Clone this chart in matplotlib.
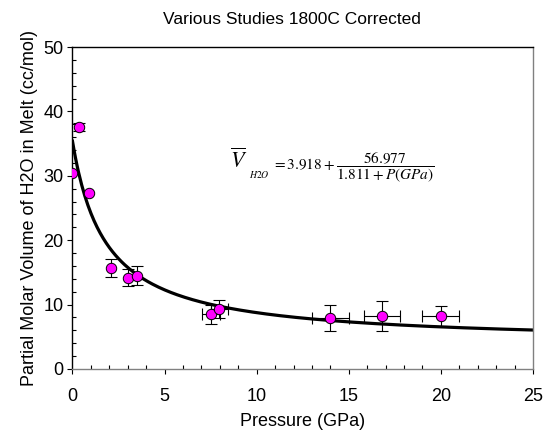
import numpy as np
import matplotlib
matplotlib.use('Agg')
import matplotlib.pyplot as plt
from matplotlib.ticker import MultipleLocator

plt.rcParams['font.family'] = 'Liberation Sans'
plt.rcParams['mathtext.fontset'] = 'stix'

# data
pressure = [0.0, 0.36, 0.89, 2.1, 3.0, 3.5, 7.53, 7.98, 14.0, 16.8, 20.0]
volume = [30.5, 37.6, 27.4, 15.7, 14.2, 14.5, 8.5, 9.3, 7.9, 8.2, 8.2]
p_err = [0, 0, 0, 0, 0, 0, 0.5, 0.45, 1.0, 1.0, 1.0]
v_err = [0, 0.6, 0, 1.45, 1.3, 1.5, 1.5, 1.4, 2.0, 2.35, 1.5]

# fit parameters
A = 3.918
B = 56.977
C = 1.811

p_fit = np.linspace(0, 25, 300)
v_fit = A + B / (C + p_fit)

W, H = 543, 432
fig = plt.figure(figsize=(5.43, 4.32), dpi=100)
ax = fig.add_axes([0.1335, 0.146, 0.848, 0.745])

ax.plot(p_fit, v_fit, color='black', lw=2.3, zorder=2)

# error bars only where the picture shows them
for p, v, pe, ve in zip(pressure, volume, p_err, v_err):
    if pe > 0:
        ax.errorbar(p, v, xerr=pe, fmt='none', ecolor='black',
                    elinewidth=0.8, capsize=4, capthick=0.8, zorder=3)
    if ve > 0:
        ax.errorbar(p, v, yerr=ve, fmt='none', ecolor='black',
                    elinewidth=0.8, capsize=4, capthick=0.8, zorder=3)

ax.plot(pressure, volume, 'o', color='#ff00ff', mec='black', mew=0.7,
        ms=7.5, zorder=4)

# fit equation, built from pieces so the V can be larger
fig.text(239 / W, 1 - 161 / H, r'$\overline{V}$', fontsize=16,
         ha='center', va='center')
fig.text(259 / W, 1 - 175 / H, r'$\mathit{H2O}$', fontsize=7,
         ha='center', va='center')
fig.text(272 / W, 1 - 168 / H,
         r'$= 3.918 + \dfrac{56.977}{1.811 + P(GPa)}$',
         fontsize=11, ha='left', va='center')

ax.set_xlim(0, 25)
ax.set_ylim(0, 50)
ax.xaxis.set_major_locator(MultipleLocator(5))
ax.xaxis.set_minor_locator(MultipleLocator(1))
ax.yaxis.set_major_locator(MultipleLocator(10))
ax.yaxis.set_minor_locator(MultipleLocator(2))
ax.tick_params(which='major', direction='out', length=3.6, width=0.8,
               labelsize=13, top=False, right=False)
ax.tick_params(axis='x', which='major', pad=10)
ax.tick_params(axis='y', which='major', pad=3)
ax.tick_params(which='minor', direction='in', length=3, width=0.8,
               top=False, right=False)

ax.spines['top'].set_color('black')
ax.spines['left'].set_color('black')
ax.spines['right'].set_color('#808080')
ax.spines['bottom'].set_color('#808080')
for s in ax.spines.values():
    s.set_linewidth(1.0)

fig.text(291.5 / W, 1 - 20 / H, 'Various Studies 1800C Corrected',
         fontsize=12.5, ha='center', va='center')
ax.set_xlabel('Pressure (GPa)', fontsize=13, labelpad=6)
ax.set_ylabel('Partial Molar Volume of H2O in Melt (cc/mol)', fontsize=13, labelpad=4)

fig.savefig('out.png', dpi=100)
